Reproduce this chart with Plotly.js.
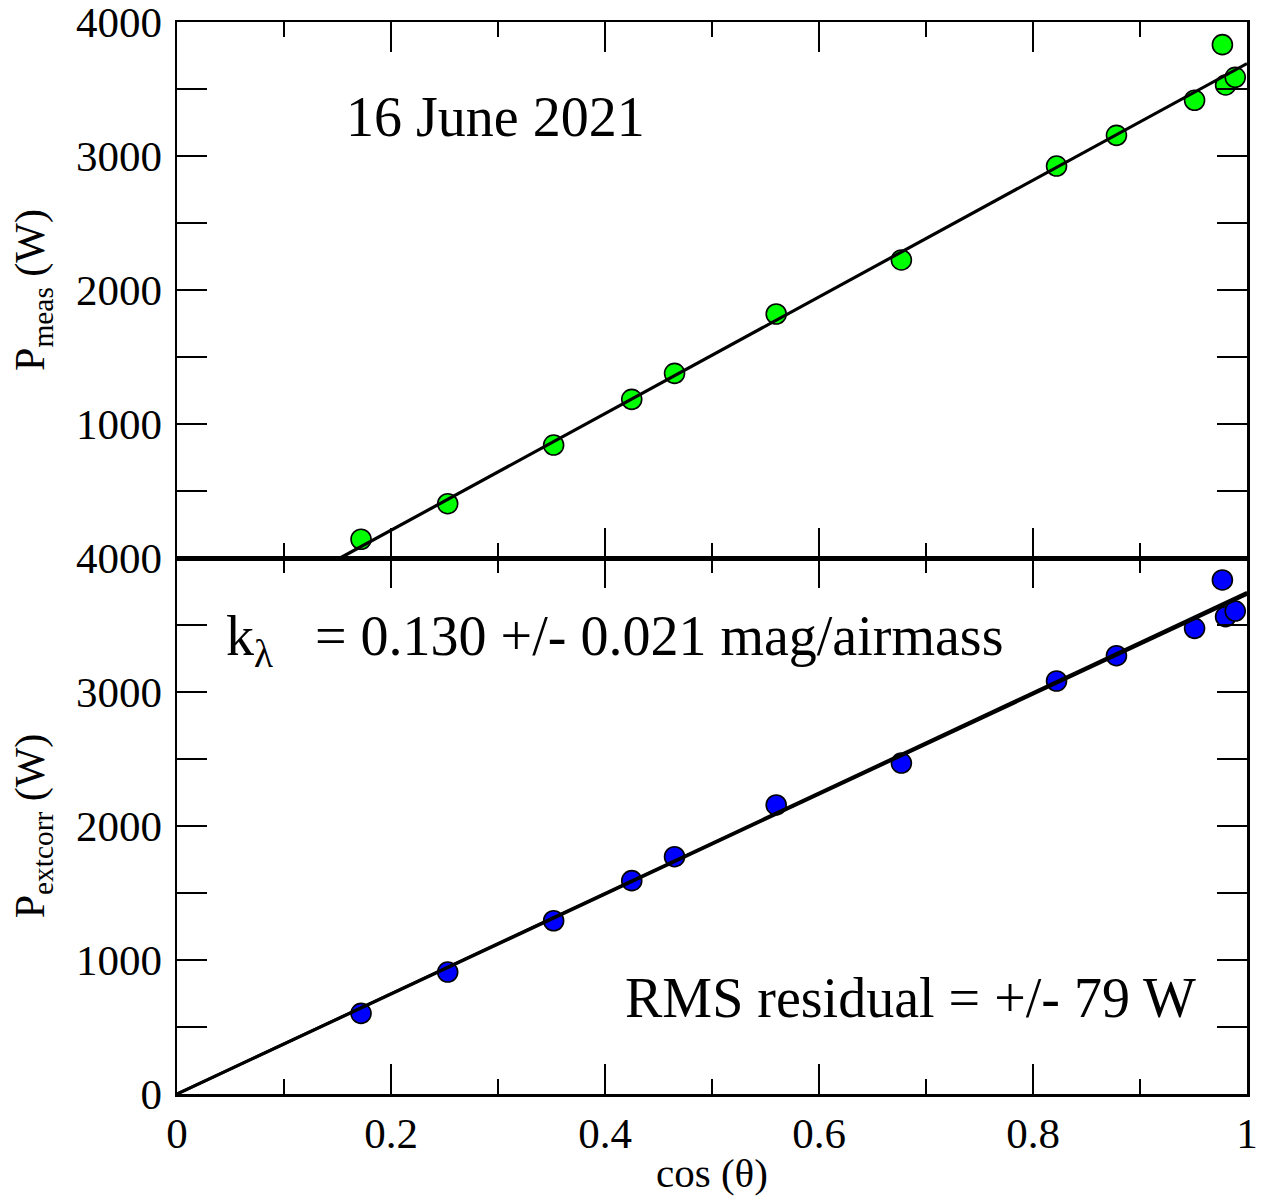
<!DOCTYPE html>
<html>
<head>
<meta charset="utf-8">
<script src="https://cdn.plot.ly/plotly-3.0.1.min.js"></script>
<style>html,body{margin:0;padding:0;background:#fff;}</style>
</head>
<body>
<div id="chart" style="width:1271px;height:1196px;"></div>
<script>
// cos(theta) of each observation
const cosTheta = [0.172, 0.253, 0.352, 0.425, 0.465, 0.560, 0.677, 0.822, 0.878, 0.951, 0.977, 0.980, 0.989];
// measured power (W)
const pMeas = [140, 405, 843, 1184, 1378, 1821, 2224, 2925, 3154, 3416, 3831, 3530, 3587];
// extinction-corrected power (W)
const pExtcorr = [602, 910, 1293, 1592, 1771, 2157, 2470, 3082, 3271, 3475, 3836, 3562, 3604];
// fit lines
const fitMeasX = [0.1525, 1.0];
const fitMeasY = [0, 3690];
const fitCorrX = [0.0, 1.0];
const fitCorrY = [0, 3730];
const fitCorr2X = [0.0, 1.0];
const fitCorr2Y = [0, 3745];
// tick labels
const xTickVals = [0, 0.2, 0.4, 0.6, 0.8, 1];
const xTickText = ['0', '0.2', '0.4', '0.6', '0.8', '1'];
const yTickVals = [0, 1000, 2000, 3000, 4000];
const yTickTextBottom = ['0', '1000', '2000', '3000', '4000'];
const yTickTextTop = ['', '1000', '2000', '3000', '4000'];

const FONT = 'Liberation Serif, Times New Roman, serif';
const marker = (c) => ({size: 20, color: c, line: {color: '#000', width: 1.6}});

const traces = [
  {x: cosTheta, y: pMeas, xaxis: 'x2', yaxis: 'y2', mode: 'markers', type: 'scatter', marker: marker('#00ff00'), cliponaxis: false},
  {x: cosTheta, y: pExtcorr, xaxis: 'x', yaxis: 'y', mode: 'markers', type: 'scatter', marker: marker('#0000ff'), cliponaxis: false},
  {x: fitMeasX, y: fitMeasY, xaxis: 'x2', yaxis: 'y2', mode: 'lines', type: 'scatter', line: {color: '#000', width: 3.2}},
  {x: fitCorrX, y: fitCorrY, xaxis: 'x', yaxis: 'y', mode: 'lines', type: 'scatter', line: {color: '#000', width: 3.2}},
  {x: fitCorr2X, y: fitCorr2Y, xaxis: 'x', yaxis: 'y', mode: 'lines', type: 'scatter', line: {color: '#000', width: 2.8}},
  // empty traces to register the tick-only top axes
  {x: [], y: [], xaxis: 'x3', yaxis: 'y', mode: 'markers', type: 'scatter'},
  {x: [], y: [], xaxis: 'x4', yaxis: 'y2', mode: 'markers', type: 'scatter'}
];

const common = {
  showgrid: false, zeroline: false, showline: true, linecolor: '#000', linewidth: 2.5,
  ticks: 'inside', ticklen: 30, tickwidth: 2.5, tickcolor: '#000',
  tickfont: {family: FONT, size: 43, color: '#000'}
};
const xMinor = {dtick: 0.1, tick0: 0, ticks: 'inside', ticklen: 15, tickwidth: 2.5, tickcolor: '#000'};
const yMinor = {dtick: 500, tick0: 0, ticks: 'inside', ticklen: 15, tickwidth: 2.5, tickcolor: '#000'};

const layout = {
  width: 1271, height: 1196,
  margin: {l: 177, r: 24, t: 22, b: 102},
  paper_bgcolor: '#fff', plot_bgcolor: 'rgba(0,0,0,0)',
  showlegend: false,
  font: {family: FONT, color: '#000'},
  xaxis: Object.assign({}, common, {
    domain: [0, 1], anchor: 'y', range: [0, 1], mirror: 'ticks',
    tickmode: 'array', tickvals: xTickVals, ticktext: xTickText,
    minor: xMinor,
    title: {text: 'cos (θ)', font: {family: FONT, size: 41, color: '#000'}, standoff: 4}
  }),
  xaxis2: Object.assign({}, common, {
    domain: [0, 1], anchor: 'y2', range: [0, 1], mirror: 'ticks',
    tickmode: 'array', tickvals: xTickVals, ticktext: xTickText, showticklabels: false,
    minor: xMinor
  }),
  xaxis3: Object.assign({}, common, {
    overlaying: 'x', anchor: 'y', side: 'top', range: [0, 1],
    tickmode: 'array', tickvals: xTickVals, ticktext: xTickText, showticklabels: false,
    minor: xMinor
  }),
  xaxis4: Object.assign({}, common, {
    overlaying: 'x2', anchor: 'y2', side: 'top', range: [0, 1],
    tickmode: 'array', tickvals: xTickVals, ticktext: xTickText, showticklabels: false,
    minor: xMinor
  }),
  yaxis: Object.assign({}, common, {
    domain: [0, 0.5], anchor: 'x', range: [0, 4000], mirror: 'allticks',
    tickmode: 'array', tickvals: yTickVals, ticktext: yTickTextBottom,
    minor: yMinor, ticklabelstandoff: 4, ticklabeloverflow: 'allow',
    title: {text: 'P<sub>extcorr</sub> (W)', font: {family: FONT, size: 42, color: '#000'}, standoff: 18}
  }),
  yaxis2: Object.assign({}, common, {
    domain: [0.5, 1], anchor: 'x2', range: [0, 4000], mirror: 'allticks',
    tickmode: 'array', tickvals: yTickVals, ticktext: yTickTextTop,
    minor: yMinor, ticklabelstandoff: 4, ticklabeloverflow: 'allow',
    title: {text: 'P<sub>meas</sub> (W)', font: {family: FONT, size: 42, color: '#000'}, standoff: 18}
  }),
  annotations: [
    {text: '16 June 2021', xref: 'x2', yref: 'y2', x: 0.2975, y: 3291, xanchor: 'center', yanchor: 'middle',
     showarrow: false, font: {family: FONT, size: 56, color: '#000'}},
    {text: 'k<sub>λ</sub>\u00a0\u00a0\u00a0= 0.130 +/- 0.021 mag/airmass', xref: 'x', yref: 'y', x: 0.044, y: 3385,
     xanchor: 'left', yanchor: 'middle', showarrow: false, font: {family: FONT, size: 56, color: '#000'}},
    {text: 'RMS residual = +/- 79 W', xref: 'x', yref: 'y', x: 0.6857, y: 716, xanchor: 'center', yanchor: 'middle',
     showarrow: false, font: {family: FONT, size: 56, color: '#000'}}
  ]
};

Plotly.newPlot('chart', traces, layout, {displayModeBar: false, staticPlot: true});
</script>
</body>
</html>
